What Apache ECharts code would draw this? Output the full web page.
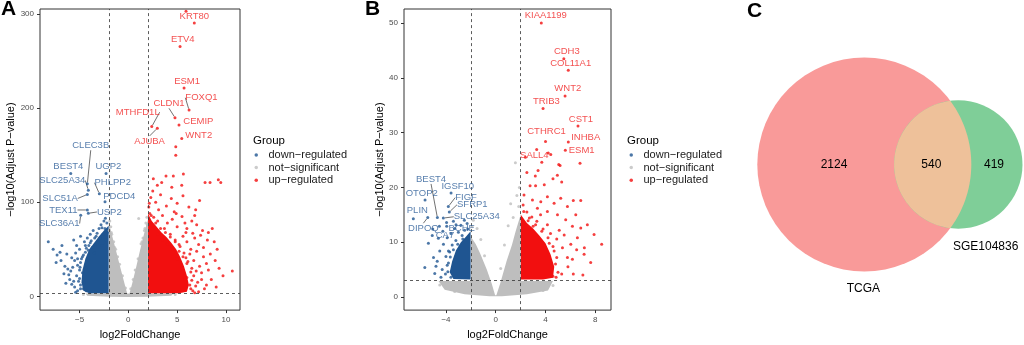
<!DOCTYPE html>
<html>
<head>
<meta charset="utf-8">
<script src="https://cdn.jsdelivr.net/npm/echarts@6/dist/echarts.min.js"></script>
<style>
  html, body { margin: 0; padding: 0; background: #fff; }
  #chart { width: 1024px; height: 345px; }
</style>
</head>
<body>
<div id="chart"></div>
<script>
// ---------- data: panel A (TCGA) ----------
const groupNames = ['down−regulated', 'not−significant', 'up−regulated']
const aTicksX = [-5, 0, 5, 10]
const aTicksY = [0, 100, 200, 300]
const aDown = [
  [-2.2, 78], [-2.4, 72], [-2.15, 68], [-2.6, 66], [-2.9, 62], [-2.3, 60], [-3.1, 58], [-3.4, 55],
  [-2.7, 54], [-3.7, 52], [-3.9, 57], [-4.1, 49], [-4.4, 47], [-3.5, 46], [-4.6, 44], [-4.8, 40],
  [-4.9, 36], [-5.2, 33], [-5.0, 28], [-4.7, 25], [-5.3, 22], [-5.1, 16], [-4.9, 12], [-4.6, 8],
  [-5.5, 10], [-5.8, 13], [-6.0, 18], [-6.1, 23], [-5.9, 27], [-5.7, 31], [-5.5, 38], [-5.8, 41],
  [-6.3, 45], [-5.3, 54], [-6.8, 54], [-7.7, 50], [-8.2, 58], [-7.3, 44], [-6.9, 38], [-6.5, 32],
  [-6.2, 29], [-7.0, 47], [-5.6, 60], [-4.9, 64], [-4.5, 58], [-4.2, 62], [-3.9, 66], [-3.6, 70],
  [-3.3, 64], [-3.0, 72], [-2.8, 76], [-2.5, 80], [-4.4, 54], [-5.0, 50], [-5.4, 46], [-4.3, 30],
  [-4.5, 15], [-4.3, 6], [-3.9, 4.5], [-5.2, 6], [-6.4, 14], [-6.6, 24], [-7.4, 36],
  [-4.9, 8], [-5.0, 19], [-4.95, 31], [-4.7, 42], [-4.3, 51], [-3.8, 59], [-3.2, 67], [-2.7, 73],
  [-2.35, 83], [-5.4, 4.5], [-5.6, 16], [-5.2, 40], [-4.05, 54], [-3.45, 62]
]
const aNs = [
  [-1.9, 80], [-1.8, 74], [-1.95, 70], [-1.7, 66], [1.06, 82.8], [1.9, 84], [1.8, 78], [1.95, 76],
  [1.7, 72], [1.5, 62], [1.3, 56], [-1.5, 58], [-1.3, 50], [-1.1, 42], [-0.9, 34], [1.0, 40],
  [0.7, 28], [-0.6, 22], [0.5, 18], [-0.3, 9], [0.25, 8], [-1.75, 68], [-1.4, 52], [1.4, 58],
  [1.65, 70], [-4.6, 2], [4.8, 2]
]
const aUp = [
  [5.91, 303], [4.86, 159], [4.86, 150],
  [2.56, 125], [3.86, 128], [4.61, 128], [5.64, 130], [7.86, 121], [8.37, 121], [9.22, 124], [9.47, 121],
  [3.42, 121], [2.97, 118], [4.45, 116], [5.47, 118], [2.5, 112],
  [2.3, 105], [2.8, 100], [3.3, 108], [3.9, 96], [4.4, 104], [5.0, 99], [5.6, 107], [6.2, 95],
  [6.9, 92], [7.3, 102], [3.1, 92], [4.7, 90], [2.1, 95],
  [2.2, 88], [2.6, 84], [3.0, 80], [3.5, 86], [4.0, 78], [4.5, 82], [5.0, 74], [5.5, 85], [6.0, 72],
  [6.5, 80], [7.0, 76], [7.6, 70], [8.2, 68], [8.6, 72], [3.7, 72], [4.9, 88], [6.8, 86], [5.8, 78],
  [4.3, 66], [4.8, 60], [5.2, 55], [5.6, 64], [6.0, 58], [6.4, 50], [6.8, 62], [7.2, 55], [7.7, 52],
  [8.1, 60], [8.8, 58], [9.1, 50], [5.9, 68], [6.6, 67], [7.4, 65],
  [5.6, 42], [6.0, 35], [6.3, 45], [6.7, 38], [7.0, 48], [7.3, 32], [7.7, 42], [8.0, 35], [8.4, 45],
  [8.9, 38], [9.3, 30], [6.5, 30], [7.5, 25], [8.2, 28],
  [6.0, 20], [6.3, 12], [6.7, 22], [7.1, 15], [7.5, 18], [8.0, 12], [8.5, 18], [9.7, 22], [10.65, 27],
  [7.8, 8], [6.6, 6], [7.2, 5], [9.0, 10],
  [5.2, 48], [5.5, 30], [5.8, 18], [5.0, 40], [4.6, 50], [4.0, 56], [3.5, 60], [3.0, 66], [2.5, 72],
  [6.4, 8], [6.5, 17], [6.4, 26], [6.1, 37], [5.7, 46], [5.3, 53], [4.8, 58], [4.3, 63], [3.8, 68],
  [3.3, 72], [2.8, 78], [2.35, 86], [6.9, 11], [6.8, 3.8], [5.9, 41], [6.95, 27], [2.15, 99]
]
// dense clouds (outline of the solid part of each group)
const aDownCore = [[-2.02, 3.2], [-2.02, 75], [-2.5, 70], [-3.0, 64], [-3.5, 57], [-4.0, 50], [-4.4, 40],
  [-4.7, 28], [-4.8, 15], [-4.6, 6], [-4.0, 3.4]]
const aUpCore = [[2.02, 3.2], [2.02, 88], [2.4, 80], [2.9, 74], [3.4, 68], [3.9, 63], [4.4, 57], [4.9, 50],
  [5.3, 42], [5.7, 32], [6.0, 22], [6.2, 12], [6.0, 5], [5.2, 3.3]]
const aNsCore = [[-4.2, 0.6], [-4.4, 3], [-2.0, 3], [-2.0, 78], [-1.6, 62], [-1.2, 46], [-0.8, 30], [-0.4, 14],
  [-0.12, 3], [0.12, 3], [0.4, 14], [0.8, 31], [1.2, 49], [1.6, 66], [2.0, 82], [2.0, 3], [4.6, 3],
  [4.4, 0.6], [2, -0.4], [0, -0.6], [-2, -0.4]]
const aGenes = ['KRT80', 'ETV4', 'ESM1', 'FOXQ1', 'CLDN1', 'CEMIP', 'MTHFD1L', 'AJUBA', 'WNT2',
  'CLEC3B', 'BEST4', 'UGP2', 'SLC25A34', 'PHLPP2', 'SLC51A', 'PDCD4', 'TEX11', 'USP2', 'SLC36A1']
const aGeneFC = [6.76, 5.30, 5.71, 6.22, 4.78, 5.19, 2.40, 2.97, 5.47,
  -4.20, -5.90, -2.28, -4.10, -2.97, -4.20, -2.39, -4.20, -4.10, -4.88]
const aGeneP = [290.5, 265.5, 221.5, 198, 189.9, 182.2, 180.4, 178.7, 167.7,
  119.6, 130.5, 130.5, 112.9, 109.1, 108.3, 100.6, 91.8, 88.3, 86.2]
const aGeneUp = [1, 1, 1, 1, 1, 1, 1, 1, 1, 0, 0, 0, 0, 0, 0, 0, 0, 0, 0]

// ---------- data: panel B (GSE) ----------
const bTicksX = [-4, 0, 4, 8]
const bTicksY = [0, 10, 20, 30, 40, 50]
const bDown = [
  [-5.41, 9.8], [-5.06, 12.4], [-4.53, 12.9], [-4.61, 10.7], [-5.1, 11.2], [-4.7, 6.5], [-4.3, 5],
  [-4.04, 4.2], [-3.6, 3.6], [-4.5, 8.4], [-4.2, 9.6], [-3.9, 10.8], [-3.7, 8.2], [-3.6, 11.6],
  [-3.3, 12.5], [-3.0, 11.8], [-2.8, 13.1], [-2.52, 14], [-2.5, 12.2], [-2.3, 13.4], [-4.9, 4.3],
  [-4.4, 3.6], [-3.8, 6.2], [-4.0, 7.4], [-3.5, 9.5], [-3.2, 10.3], [-2.7, 11.2], [-5.7, 5.4],
  [-4.8, 5.6], [-3.4, 13.8], [-4.25, 12.0], [-3.95, 13.6], [-5.0, 7.2], [-3.8, 8.4], [-2.2, 10.8],
  [-3.85, 4.6], [-3.9, 5.8], [-3.65, 7.3], [-3.4, 8.6], [-3.05, 9.6], [-2.65, 10.6], [-2.25, 12.4]
]
const bNs = [
  [1.58, 24.5], [1.2, 17], [1.7, 18.5], [-1.8, 14], [1.0, 13], [-1.5, 12.5], [1.9, 20], [0.7, 9.5],
  [-1.2, 10.5], [1.4, 14.5], [-1.9, 12.8], [1.85, 16.5], [-0.9, 7.5], [0.4, 5.2], [-4.5, 2.2],
  [4.6, 2.1], [-3.3, 1.0], [3.8, 1.2]
]
const bUp = [
  [5.06, 24.2], [5.17, 24], [6.77, 24.4], [3.29, 26.9], [4.22, 26.3], [4.42, 26], [3.4, 23.1],
  [3.18, 22.1], [2.76, 20.3], [3.2, 20.3], [4.95, 22.2], [5.3, 21], [6.23, 17.6], [6.83, 17.6],
  [8.51, 9.6], [7.12, 9], [6.23, 4.2], [7.0, 4], [5.3, 4.2],
  [2.27, 18.6], [2.95, 17.7], [3.62, 17.4], [4.15, 18.3], [4.69, 17.1], [5.22, 18], [5.76, 16.5],
  [6.43, 15], [3.35, 16.2], [4.15, 15.6], [4.96, 15], [5.62, 14.1], [6.16, 12.9], [6.83, 12.6],
  [7.36, 13.2], [7.9, 11.4], [6.56, 10.8], [6.03, 9.6], [5.36, 9.0], [7.1, 7.8], [7.63, 6.3],
  [6.16, 6.9], [5.76, 7.2], [4.69, 8.4], [4.15, 13.2],
  [2.5, 15.5], [2.9, 14.6], [3.3, 13.8], [3.8, 12.4], [4.4, 11.6], [4.9, 10.6], [5.1, 12.2],
  [5.5, 11.3], [4.8, 6], [5.0, 4.5], [4.6, 3.8], [2.2, 16.8], [3.0, 12.9], [3.6, 15], [2.6, 13.9],
  [4.3, 9.8], [5.8, 5.5], [6.5, 8.6], [3.9, 20.5], [4.6, 21.6], [2.5, 22.7], [3.7, 24.6],
  [4.85, 3.6], [4.9, 7.2], [4.6, 9.2], [4.2, 10.8], [3.7, 12.0], [3.2, 13.2], [2.7, 14.4], [2.25, 15.6]
]
const bDownCore = [[-2.02, 3.2], [-2.02, 12], [-2.4, 11], [-2.8, 10], [-3.2, 8.5], [-3.5, 6.5],
  [-3.7, 4.5], [-3.4, 3.3]]
const bUpCore = [[2.02, 3.2], [2.02, 15], [2.5, 13.5], [3.0, 12.5], [3.5, 11.2], [4.0, 9.8], [4.4, 7.8],
  [4.7, 5.5], [4.6, 3.5], [3.8, 3.2]]
const bNsCore = [[-4.6, 2.9], [-2, 2.9], [-2, 11], [-1.6, 9.6], [-1.26, 8], [-0.72, 5], [-0.32, 2.4],
  [-0.05, 0.3], [0.05, 0.3], [0.35, 2.4], [0.88, 6.6], [1.3, 9.5], [1.6, 12], [2, 15], [2, 2.9],
  [4.6, 2.9], [4.2, 1.2], [2.5, 0.5], [0.5, 0.15], [-0.5, 0.15], [-2.5, 0.5], [-4.1, 1.3]]
const bGenes = ['KIAA1199', 'CDH3', 'COL11A1', 'WNT2', 'TRIB3', 'CST1', 'CTHRC1', 'INHBA', 'ESM1', 'SALL4',
  'BEST4', 'OTOP2', 'IGSF10', 'FIGF', 'SFRP1', 'SLC25A34', 'PLIN', 'DIPOQ', 'BCHE', 'CA7']
const bGeneFC = [3.66, 5.47, 5.83, 5.57, 3.80, 6.61, 4.0, 5.83, 5.59, 2.38,
  -4.69, -5.68, -3.59, -3.81, -3.73, -4.21, -6.62, -5.46, -3.19, -3.94]
const bGeneP = [50.0, 43.5, 41.4, 36.7, 34.4, 31.2, 28.4, 28.3, 26.8, 25.5,
  14.5, 17.7, 19.0, 16.5, 15.5, 14.4, 14.3, 14.5, 13.2, 12.9]
const bGeneUp = [1, 1, 1, 1, 1, 1, 1, 1, 1, 1, 0, 0, 0, 0, 0, 0, 0, 0, 0, 0]

// cut-offs
const fcCut = [-2, 2]
const pCut = 3

// ---------- data: panel C (Venn) ----------
const vennSets = ['TCGA', 'SGE104836']
const vennCounts = [2124, 540, 419] // TCGA only, both, SGE only

// ---------- layout (pixels, label nudges) ----------
const FONT = '"Liberation Sans", Arial, sans-serif'
const DOWN = '#1F5591', NS = '#BEBEBE', UP = '#F20F0F'
const DOWN_TXT = '#2D5E98', UP_TXT = '#F02424'
const nudgeA = [[0, -7], [2.7, -6.7], [3, -7], [12.4, -12.3], [-6, -14.4], [19.4, -3.3], [-14, -14.4],
  [-7.7, 12.7], [17, -2.7], [3.4, -38.6], [-2.4, -7.3], [2.3, -7.3], [-26, -9.7], [13.4, -11],
  [-27.3, 4], [14.3, -5], [-24, 0], [21, -1.3], [-21.4, 8.3]]
const lineA = ['FOXQ1', 'CLDN1', 'MTHFD1L', 'AJUBA', 'CLEC3B', 'SLC25A34', 'PHLPP2', 'SLC51A', 'TEX11', 'USP2', 'SLC36A1']
const nudgeB = [[4.4, -7.3], [3, -7.3], [2.4, -6.7], [2.7, -7.4], [3.3, -7], [3, -7], [1, -10], [17.4, -5],
  [16.4, 0], [9, -2], [-6.3, -38.6], [-3.3, -7], [6.7, -6.4], [17.7, -9], [23, -7.3], [33.4, -1.3],
  [4, -8], [-4.4, 10.7], [5.7, 3.3], [-1.7, 9]]
const lineB = ['BEST4', 'FIGF', 'SFRP1', 'SLC25A34', 'DIPOQ']
const venn = { cx: [124.3, 218.3], cy: 164.5, k: 2.073,
  numPos: [[94, 165], [191.3, 165], [254, 165]], namePos: [[123.3, 288.3], [245.7, 246.7]] }

const chart = echarts.init(document.getElementById('chart'))

function minus(v) { return v < 0 ? '−' + (-v) : String(v) }

function axisPair(gi, xr, yr, xt, yt, gapY) {
  const common = {
    gridIndex: gi, type: 'value', nameLocation: 'middle',
    nameTextStyle: { fontSize: 11, color: '#000', fontFamily: FONT },
    axisLine: { show: false, onZero: false }, splitLine: { show: false }
  }
  return [
    Object.assign({}, common, {
      min: xr[0], max: xr[1], name: 'log2FoldChange', nameGap: 17,
      axisTick: { show: true, length: 3, customValues: xt, lineStyle: { color: '#333' } },
      axisLabel: { customValues: xt, fontSize: 8, color: '#4d4d4d', margin: 6, formatter: minus }
    }),
    Object.assign({}, common, {
      min: yr[0], max: yr[1], name: '−log10(Adjust P−value)', nameGap: gapY,
      axisTick: { show: true, length: 3, customValues: yt, lineStyle: { color: '#333' } },
      axisLabel: { customValues: yt, fontSize: 8, color: '#4d4d4d', margin: 6, formatter: minus }
    })
  ]
}

function core(verts, color, gi) {
  return {
    type: 'custom', xAxisIndex: gi, yAxisIndex: gi, data: verts, encode: { x: 0, y: 1 },
    silent: true, z: 2,
    renderItem: (params, api) => {
      if (params.dataIndex !== 0) return
      return { type: 'polygon', shape: { points: verts.map(v => api.coord(v)) }, style: { fill: color } }
    }
  }
}

function sparse(name, pts, color, gi) {
  return { name, type: 'scatter', xAxisIndex: gi, yAxisIndex: gi, data: pts, symbolSize: 3,
    itemStyle: { color }, silent: true, z: 3 }
}

function genes(names, fc, p, up, nudge, lines, gi) {
  return {
    type: 'scatter', xAxisIndex: gi, yAxisIndex: gi, symbolSize: 3, silent: true, z: 5,
    data: names.map((n, i) => ({
      name: n, value: [fc[i], p[i]],
      itemStyle: { color: up[i] ? UP : DOWN },
      label: { color: up[i] ? UP_TXT : DOWN_TXT },
      labelLine: { show: lines.includes(n) }
    })),
    label: { show: true, position: 'inside', formatter: '{b}', fontSize: 9.5, fontFamily: FONT },
    labelLayout: prm => ({ dx: nudge[prm.dataIndex][0], dy: nudge[prm.dataIndex][1] }),
    labelLine: { show: false, lineStyle: { color: '#333', width: 0.7 } },
    markLine: {
      silent: true, symbol: 'none', label: { show: false }, animation: false,
      lineStyle: { type: [3, 3], color: '#333', width: 0.8 },
      data: [{ xAxis: fcCut[0] }, { xAxis: fcCut[1] }, { yAxis: pCut }]
    }
  }
}

const axA = axisPair(0, [-9.05, 11.44], [-14.6, 305.4], aTicksX, aTicksY, 22)
const axB = axisPair(1, [-7.37, 9.26], [-2.4, 52.57], bTicksX, bTicksY, 18)

const vennSeries = {
  type: 'custom', xAxisIndex: 2, yAxisIndex: 2, data: [[0, 0]], silent: true,
  renderItem: (params, api) => {
    const sizes = [vennCounts[0] + vennCounts[1], vennCounts[2] + vennCounts[1]]
    const c1 = api.coord([venn.cx[0], venn.cy]), c2 = api.coord([venn.cx[1], venn.cy])
    const r1 = api.size([venn.k * Math.sqrt(sizes[0]), 0])[0]
    const r2 = api.size([venn.k * Math.sqrt(sizes[1]), 0])[0]
    const d = c2[0] - c1[0]
    const a = (r1 * r1 - r2 * r2 + d * d) / (2 * d)
    const h = Math.sqrt(r1 * r1 - a * a)
    const t1 = Math.atan2(h, a), t2 = Math.atan2(h, d - a)
    const lens = []
    for (let i = 0; i <= 60; i++) {
      const t = -t1 + 2 * t1 * i / 60
      lens.push([c1[0] + r1 * Math.cos(t), c1[1] + r1 * Math.sin(t)])
    }
    for (let i = 0; i <= 60; i++) {
      const t = Math.PI - t2 + 2 * t2 * i / 60
      lens.push([c2[0] + r2 * Math.cos(t), c2[1] + r2 * Math.sin(t)])
    }
    const txt = (pos, s) => {
      const q = api.coord(pos)
      return { type: 'text', x: q[0], y: q[1], style: { text: s, fill: '#000', fontSize: 12,
        fontFamily: FONT, align: 'center', verticalAlign: 'middle' } }
    }
    return {
      type: 'group', children: [
        { type: 'circle', shape: { cx: c1[0], cy: c1[1], r: r1 }, style: { fill: '#F99A99' } },
        { type: 'circle', shape: { cx: c2[0], cy: c2[1], r: r2 }, style: { fill: '#7FCE98' } },
        { type: 'polygon', shape: { points: lens }, style: { fill: '#EEC19A' } },
        txt(venn.numPos[0], String(vennCounts[0])),
        txt(venn.numPos[1], String(vennCounts[1])),
        txt(venn.numPos[2], String(vennCounts[2])),
        txt(venn.namePos[0], vennSets[0]),
        txt(venn.namePos[1], vennSets[1])
      ]
    }
  }
}

const legendBase = {
  data: groupNames, orient: 'vertical', itemWidth: 3.5, itemHeight: 3.5, itemGap: 0, icon: 'circle',
  selectedMode: false, padding: 0,
  textStyle: { fontSize: 11, color: '#1a1a1a', lineHeight: 12.6, fontFamily: FONT, padding: [0, 0, 0, 5.5] }
}
const titleStyle = { fontSize: 21, fontWeight: 'bold', color: '#000', fontFamily: FONT }
const groupStyle = { fontSize: 11.5, fontWeight: 'normal', color: '#000', fontFamily: FONT }

chart.setOption({
  animation: false,
  backgroundColor: '#fff',
  textStyle: { fontFamily: FONT },
  title: [
    { text: 'A', left: 1, top: -1, padding: 0, textStyle: titleStyle },
    { text: 'B', left: 365, top: -1, padding: 0, textStyle: titleStyle },
    { text: 'C', left: 747, top: 1, padding: 0, textStyle: titleStyle },
    { text: 'Group', left: 253, top: 135, padding: 0, textStyle: groupStyle },
    { text: 'Group', left: 627, top: 135, padding: 0, textStyle: groupStyle }
  ],
  legend: [
    Object.assign({}, legendBase, { left: 254.5, top: 148.7 }),
    Object.assign({}, legendBase, { left: 629.5, top: 148.7 })
  ],
  grid: [
    { left: 40, top: 9, width: 200, height: 303, show: true, borderColor: '#333', borderWidth: 1 },
    { left: 404, top: 9, width: 207, height: 304, show: true, borderColor: '#333', borderWidth: 1 },
    { left: 740, top: 0, width: 284, height: 345, show: false }
  ],
  xAxis: [axA[0], axB[0], { gridIndex: 2, type: 'value', min: 0, max: 284, show: false }],
  yAxis: [axA[1], axB[1], { gridIndex: 2, type: 'value', min: 0, max: 345, inverse: true, show: false }],
  series: [
    sparse(groupNames[0], aDown, DOWN, 0),
    sparse(groupNames[1], aNs, NS, 0),
    sparse(groupNames[2], aUp, UP, 0),
    core(aNsCore, NS, 0),
    core(aDownCore, DOWN, 0),
    core(aUpCore, UP, 0),
    genes(aGenes, aGeneFC, aGeneP, aGeneUp, nudgeA, lineA, 0),
    sparse(groupNames[0], bDown, DOWN, 1),
    sparse(groupNames[1], bNs, NS, 1),
    sparse(groupNames[2], bUp, UP, 1),
    core(bNsCore, NS, 1),
    core(bDownCore, DOWN, 1),
    core(bUpCore, UP, 1),
    genes(bGenes, bGeneFC, bGeneP, bGeneUp, nudgeB, lineB, 1),
    vennSeries
  ]
})
</script>
</body>
</html>
